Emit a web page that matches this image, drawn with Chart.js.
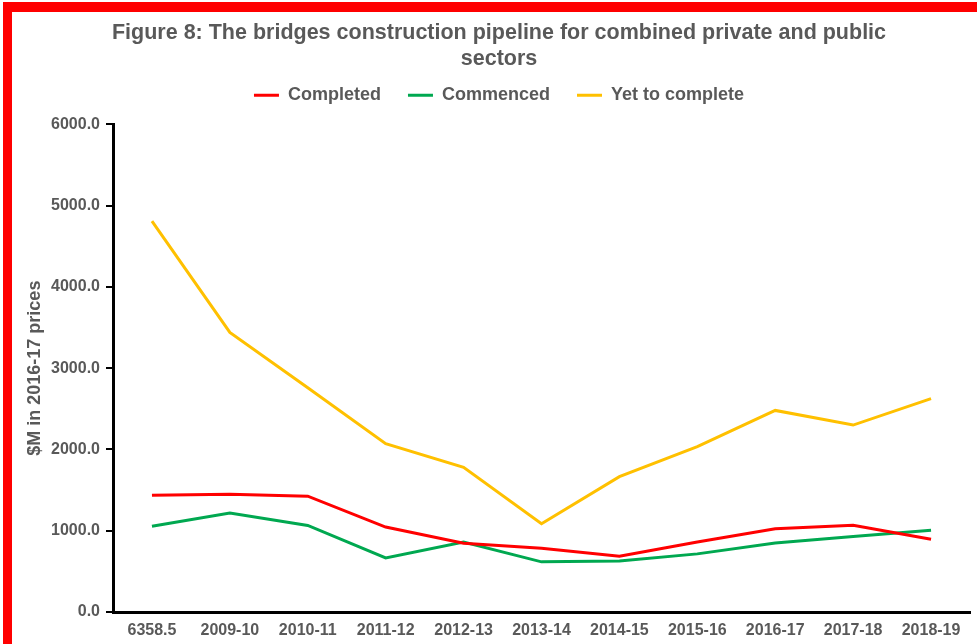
<!DOCTYPE html>
<html>
<head>
<meta charset="utf-8">
<title>Bridges construction pipeline</title>
<script src="https://cdn.jsdelivr.net/npm/chart.js@4.4.0/dist/chart.umd.min.js"></script>
<style>
  html, body { margin: 0; padding: 0; background: #fff; }
  #wrap { position: relative; width: 977px; height: 644px; overflow: hidden; }
  #frame {
    position: absolute; left: 3px; top: 2px; width: 1000px; height: 700px;
    border-top: 10px solid #ff0000; border-left: 9px solid #ff0000;
    pointer-events: none;
  }
</style>
</head>
<body>
<div id="wrap">
  <canvas id="pipelineChart" width="977" height="644"></canvas>
  <div id="frame"></div>
</div>
<script>
// Data ($M in 2016-17 prices)
var years = ["6358.5", "2009-10", "2010-11", "2011-12", "2012-13", "2013-14", "2014-15", "2015-16", "2016-17", "2017-18", "2018-19"];
var completed = [1435, 1450, 1425, 1045, 845, 785, 685, 860, 1025, 1067, 895];
var commenced = [1055, 1218, 1065, 666, 860, 617, 628, 715, 850, 930, 1006];
var yetToComplete = [4810, 3440, 2760, 2070, 1780, 1085, 1665, 2035, 2480, 2300, 2625];

var textGrey = '#595959';
var fontFamily = 'Arial, "Liberation Sans", sans-serif';

var ctx = document.getElementById('pipelineChart').getContext('2d');

var pipelineChart = new Chart(ctx, {
    type: 'line',
    data: {
        labels: years,
        datasets: [
            {
                label: 'Completed',
                data: completed,
                borderColor: '#ff0000',
                backgroundColor: '#ff0000',
                borderWidth: 3
            },
            {
                label: 'Commenced',
                data: commenced,
                borderColor: '#00a850',
                backgroundColor: '#00a850',
                borderWidth: 3
            },
            {
                label: 'Yet to complete',
                data: yetToComplete,
                borderColor: '#ffc000',
                backgroundColor: '#ffc000',
                borderWidth: 3
            }
        ]
    },
    options: {
        responsive: false,
        animation: false,
        layout: {
            padding: { top: 0, left: 28, right: 7, bottom: 0 }
        },
        elements: {
            point: { radius: 0 },
            line: { tension: 0 }
        },
        plugins: {
            title: {
                display: true,
                text: ['Figure 8: The bridges construction pipeline for combined private and public', 'sectors'],
                color: textGrey,
                font: { family: fontFamily, size: 21.5, weight: 'bold', lineHeight: 1.17 },
                padding: { top: 21, bottom: -12 }
            },
            legend: {
                display: true,
                labels: {
                    color: textGrey,
                    font: { family: fontFamily, size: 18, weight: 'bold' },
                    usePointStyle: true,
                    pointStyle: 'line',
                    pointStyleWidth: 25,
                    padding: 27
                }
            },
            tooltip: { enabled: false }
        },
        scales: {
            x: {
                offset: true,
                grid: { display: false, drawTicks: false },
                border: { color: '#000', width: 3 },
                ticks: {
                    color: textGrey,
                    font: { family: fontFamily, size: 16, weight: 'bold' },
                    padding: 9,
                    maxRotation: 0,
                    autoSkip: false
                },
                afterFit: function(scale) { scale.height = 32; }
            },
            y: {
                min: 0,
                max: 6000,
                grid: { drawOnChartArea: false, drawTicks: true, tickLength: 7, color: '#000', lineWidth: 2 },
                border: { color: '#000', width: 3 },
                ticks: {
                    stepSize: 1000,
                    color: textGrey,
                    font: { family: fontFamily, size: 16, weight: 'bold' },
                    padding: 6,
                    callback: function(value) { return value.toFixed(1); }
                },
                title: {
                    display: true,
                    text: '$M in 2016-17 prices',
                    color: textGrey,
                    font: { family: fontFamily, size: 18, weight: 'bold' },
                    padding: { top: -4, bottom: 0 }
                },
                afterFit: function(scale) { scale.width = 85; }
            }
        }
    }
});

// leave a gap under the legend like the original figure
var legendFit = pipelineChart.legend.fit;
pipelineChart.legend.fit = function() {
    legendFit.call(this);
    this.height += 10;
};
pipelineChart.update();
</script>
</body>
</html>
